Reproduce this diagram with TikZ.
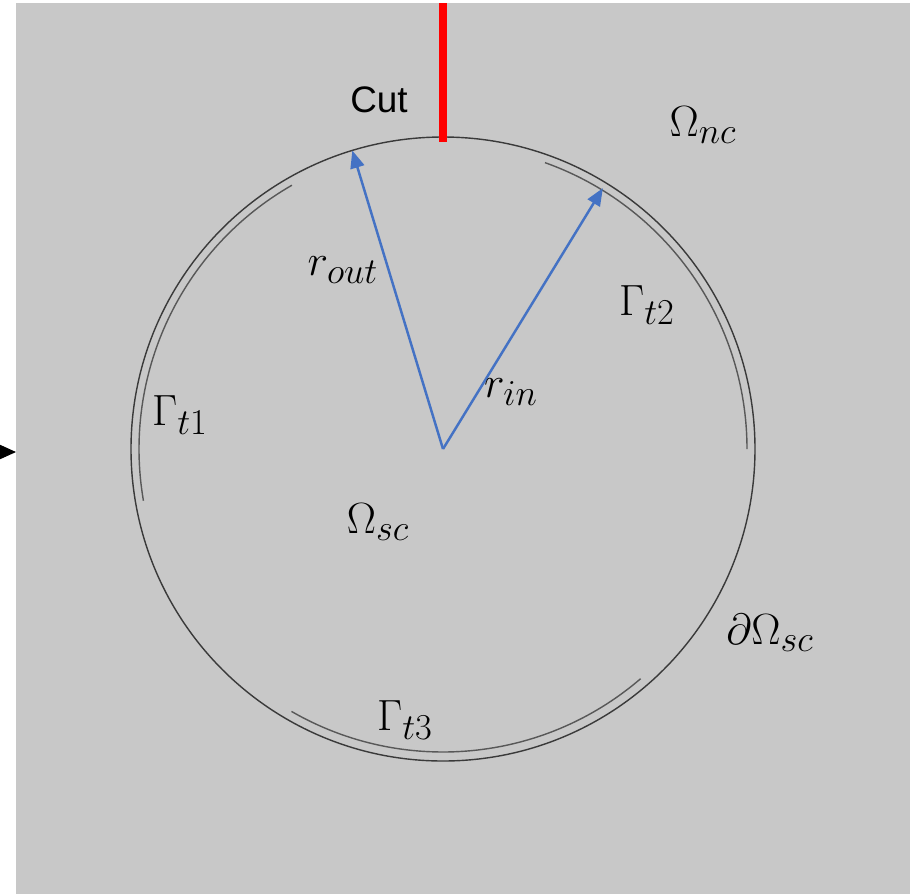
\documentclass[tikz,border=0pt]{standalone}
\usepackage{fontspec}
\newfontfamily\cutfont{Liberation Sans}
\DeclareMathSizes{28}{28}{22}{17}
\usetikzlibrary{arrows.meta, calc}

\definecolor{bggray}{HTML}{C8C8C8}
\definecolor{radblue}{HTML}{4472C4}
\definecolor{ringgray}{HTML}{3A3A3A}
\definecolor{cutred}{HTML}{FF0000}

\begin{document}
\begin{tikzpicture}[x=0.02cm, y=0.02cm,
    ring/.style={draw=ringgray, line width=0.8pt},
    termarc/.style={draw=ringgray!85, line width=0.8pt},
    radarr/.style={draw=radblue, line width=1.4pt, -{Triangle[length=10pt, width=8pt]}},
    lbl/.style={font=\fontsize{28}{32}\selectfont, inner sep=0pt},
    cutlbl/.style={font=\cutfont\fontsize{21}{25}\selectfont, inner sep=0pt}
]
\useasboundingbox (0,0) rectangle (910,-894);
\fill[bggray] (16,-3) rectangle (910,-894);

% centre of the conductor
\coordinate (c) at (443,-449);
\coordinate (outtip) at ($(c)+(106.9:312)$);
\coordinate (intip) at ($(c)+(58.5:306)$);

% outer boundary and terminals
\draw[ring] (c) circle[radius=312];
\draw[termarc] ($(c)+(119.8:304)$) arc[start angle=119.8, end angle=189.8, radius=304];
\draw[termarc] ($(c)+(70.4:304)$) arc[start angle=70.4, end angle=0, radius=304];
\draw[termarc] ($(c)+(240:303)$) arc[start angle=240, end angle=310.7, radius=303];

% radii
\draw[radarr] (c) -- (outtip);
\draw[radarr] (c) -- (intip);

% cut
\coordinate (cuttop) at (443,-3);
\coordinate (cutbot) at (443,-142);
\draw[cutred, line width=4pt] (cuttop) -- (cutbot);

% incoming arrow at left edge
\begin{scope}
\clip (0,0) rectangle (910,-894);
\coordinate (feedtail) at (-40,-452);
\coordinate (feedtip) at (16,-452);
\draw[black, line width=0.6pt, -{Triangle[length=9pt, width=8pt]}] (feedtail) -- (feedtip);
\end{scope}

% labels
\node[cutlbl] (cut) at (379,-100) {Cut};
\node[lbl] (omnc) at (703,-125) {$\Omega_{nc}$};
\node[lbl] (gt2) at (647,-305) {$\Gamma_{t2}$};
\node[lbl] (gt1) at (180,-415) {$\Gamma_{t1}$};
\node[lbl] (rout) at (343,-270) {$r_{out}$};
\node[lbl] (rin) at (511,-392) {$r_{in}$};
\node[lbl] (omsc) at (378,-522) {$\Omega_{sc}$};
\node[lbl] (domsc) at (770,-633) {$\partial\Omega_{sc}$};
\node[lbl] (gt3) at (405,-720) {$\Gamma_{t3}$};
\end{tikzpicture}
\end{document}
